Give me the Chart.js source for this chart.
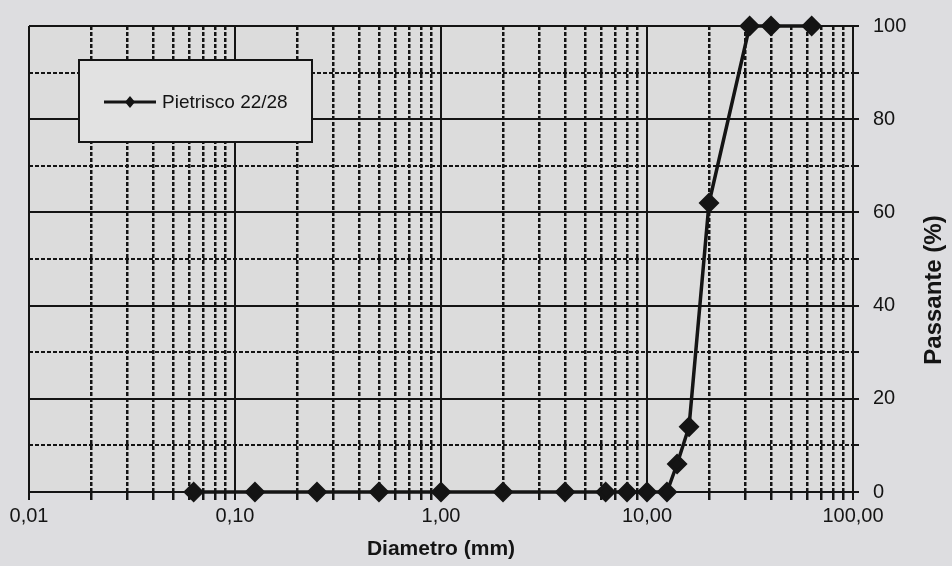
<!DOCTYPE html>
<html><head><meta charset="utf-8">
<script src="https://cdn.jsdelivr.net/npm/chart.js@4"></script>
<style>html,body{margin:0;padding:0;background:#dddde0;} canvas{display:block}</style>
</head><body>
<canvas id="c" width="952" height="566"></canvas>
<script>
// ---- data ----
const diametri = [0.063, 0.125, 0.25, 0.5, 1, 2, 4, 6.3, 8, 10, 12.5, 14, 16, 20, 31.5, 40, 63];
const passante = [0, 0, 0, 0, 0, 0, 0, 0, 0, 0, 0, 6, 14, 62, 100, 100, 100];
const serieNome = 'Pietrisco 22/28';
const xDecadi = [0.01, 0.1, 1, 10, 100];
const xTickLabels = ['0,01', '0,10', '1,00', '10,00', '100,00'];
const yTickValues = [0, 10, 20, 30, 40, 50, 60, 70, 80, 90, 100];
const yTickLabels = ['0', '', '20', '', '40', '', '60', '', '80', '', '100'];
const xTitle = 'Diametro (mm)';
const yTitle = 'Passante (%)';

const FONT = "'Liberation Sans', Arial, sans-serif";
const INK = '#141414';

function isDecade(v) {
  const l = Math.log10(v);
  return Math.abs(l - Math.round(l)) < 1e-9;
}

const bgPlugin = {
  id: 'bg',
  beforeDraw(chart) {
    const {ctx, chartArea: a} = chart;
    ctx.save();
    ctx.fillStyle = '#dcdcdc';
    ctx.fillRect(a.left, a.top, a.right - a.left, a.bottom - a.top);
    ctx.restore();
  }
};

const extrasPlugin = {
  id: 'extras',
  afterDraw(chart) {
    const ctx = chart.ctx;
    // legend box
    ctx.save();
    ctx.fillStyle = '#e2e2e2';
    ctx.fillRect(79, 60, 233, 82);
    ctx.strokeStyle = INK;
    ctx.lineWidth = 2;
    ctx.strokeRect(79, 60, 233, 82);
    ctx.beginPath();
    ctx.moveTo(104, 102);
    ctx.lineTo(156, 102);
    ctx.lineWidth = 3;
    ctx.stroke();
    ctx.fillStyle = INK;
    ctx.beginPath();
    ctx.moveTo(130, 96); ctx.lineTo(135, 102); ctx.lineTo(130, 108); ctx.lineTo(125, 102);
    ctx.closePath(); ctx.fill();
    ctx.font = '19px ' + FONT;
    ctx.textBaseline = 'middle';
    ctx.textAlign = 'left';
    ctx.fillText(serieNome, 162, 103);
    // right axis title, reading bottom to top
    ctx.translate(934, 290);
    ctx.rotate(-Math.PI / 2);
    ctx.font = 'bold 24px ' + FONT;
    ctx.textAlign = 'center';
    ctx.fillText(yTitle, 0, 0);
    ctx.restore();
  }
};

new Chart(document.getElementById('c'), {
  type: 'line',
  data: {
    datasets: [{
      label: serieNome,
      data: diametri.map((d, i) => ({x: d, y: passante[i]})),
      borderColor: INK,
      backgroundColor: INK,
      borderWidth: 3.5,
      pointStyle: 'rectRot',
      pointRadius: 8,
      pointHoverRadius: 8,
      tension: 0,
      clip: false
    }]
  },
  options: {
    responsive: false,
    animation: false,
    layout: {padding: {top: 17, left: 29, right: 0, bottom: 0}},
    plugins: {legend: {display: false}, tooltip: {enabled: false}},
    scales: {
      x: {
        type: 'logarithmic',
        min: 0.01, max: 100,
        afterBuildTicks(scale) {
          const t = [];
          for (const d of xDecadi.slice(0, -1)) {
            for (let k = 1; k <= 9; k++) {
              const v = parseFloat((k * d).toPrecision(6));
              t.push({value: v, major: k === 1});
            }
          }
          t.push({value: 100, major: true});
          scale.ticks = t;
        },
        afterFit(scale) { scale.height = 566 - 492; },
        grid: {
          color: INK,
          lineWidth: ctx => (ctx.tick && isDecade(ctx.tick.value)) ? 2 : 2.5,
          tickLength: 8,
          drawTicks: true
        },
        border: {
          display: true, color: INK, width: 2,
          dash: ctx => (ctx.tick && !isDecade(ctx.tick.value)) ? [4, 2] : []
        },
        ticks: {
          autoSkip: false, maxRotation: 0, padding: 4,
          color: INK,
          font: {family: FONT, size: 20},
          callback: (v) => {
            const i = xDecadi.findIndex(d => Math.abs(d - v) < 1e-9);
            return i >= 0 ? xTickLabels[i] : '';
          }
        },
        title: {
          display: true, text: xTitle, color: INK,
          font: {family: FONT, size: 21, weight: 'bold'},
          padding: {top: 0, bottom: 4}
        }
      },
      y: {
        position: 'right',
        min: 0, max: 100,
        afterBuildTicks(scale) {
          scale.ticks = yTickValues.map(v => ({value: v}));
        },
        afterFit(scale) { scale.width = 952 - 853; },
        grid: {
          color: INK,
          lineWidth: 2,
          tickLength: 6
        },
        border: {
          display: true, color: INK, width: 2,
          dash: ctx => (ctx.tick && ctx.tick.value % 20 !== 0) ? [4, 2] : []
        },
        ticks: {
          autoSkip: false, padding: 14,
          color: INK,
          font: {family: FONT, size: 20},
          callback: (v) => {
            const i = yTickValues.indexOf(v);
            return i >= 0 ? yTickLabels[i] : '';
          }
        }
      }
    }
  },
  plugins: [bgPlugin, extrasPlugin]
});
</script>
</body></html>
